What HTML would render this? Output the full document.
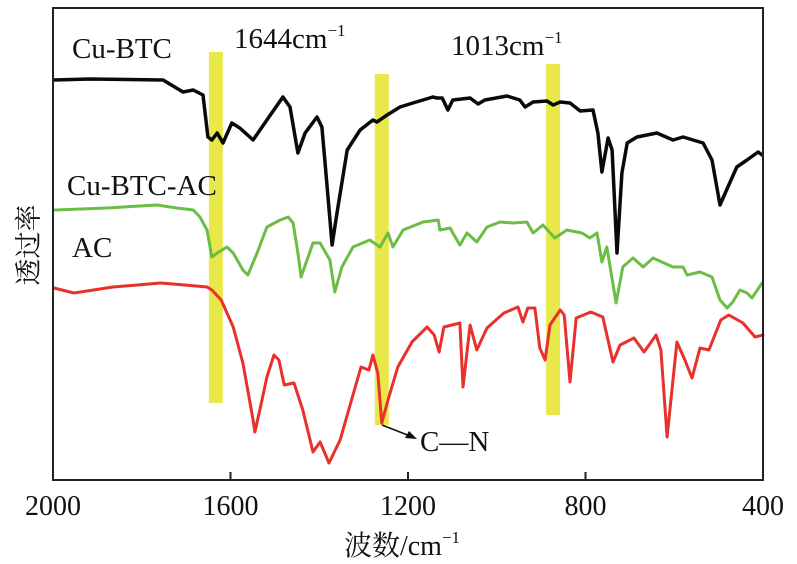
<!DOCTYPE html>
<html><head><meta charset="utf-8"><style>
html,body{margin:0;padding:0;background:#fff;}
svg{display:block;}
text{font-family:"Liberation Serif","Noto Serif CJK SC",serif;fill:#111;}
</style></head><body>
<svg id="chart" width="797" height="564" viewBox="0 0 797 564">
<g id="bars"></g>
<g id="series"></g>
<rect x="53" y="8" width="710" height="472" fill="none" stroke="#222" stroke-width="2"/>
<g id="ticks"></g>
<text x="402" y="555" font-size="28" text-anchor="middle">波数/cm<tspan font-size="17" dy="-12">−1</tspan></text>
<text transform="translate(38,245) rotate(-90)" font-size="27" text-anchor="middle">透过率</text>
<text x="72" y="58" font-size="29">Cu-BTC</text>
<text x="67" y="195" font-size="29">Cu-BTC-AC</text>
<text x="72" y="257" font-size="29">AC</text>
<text x="234" y="48" font-size="29">1644cm<tspan font-size="17" dy="-12">−1</tspan></text>
<text x="451" y="55" font-size="29">1013cm<tspan font-size="17" dy="-12">−1</tspan></text>
<line x1="382" y1="425" x2="410" y2="436" stroke="#111" stroke-width="1.5"/>
<polygon points="417,439 405,438 409,431" fill="#111"/>
<text x="420" y="451" font-size="29">C—N</text>
</svg>
<script>
const xTicks=[2000,1600,1200,800,400];
const bandCenters=[1633,1259,873];
const bandTops=[52,74,64];
const bandBottoms=[403,425,415];
const blackWn=[1998,1917,1752,1707,1684,1662,1651,1642,1630,1617,1597,1579,1549,1518,1482,1466,1448,1432,1405,1394,1383,1371,1360,1337,1308,1279,1270,1247,1218,1189,1144,1135,1123,1110,1099,1060,1042,1027,977,948,936,918,887,873,857,835,812,783,772,763,749,740,729,718,706,684,639,603,580,535,515,497,479,459,436,411,402];
const blackT=[400,401,400,388,390,385,343,340,347,337,357,352,340,360,383,373,327,347,363,353,297,235,267,330,350,360,358,365,373,377,383,382,382,370,380,382,376,380,384,380,373,378,379,375,378,377,369,370,347,308,342,330,227,307,337,343,347,340,343,337,320,275,293,313,320,328,325];
const greenWn=[1995,1878,1766,1721,1684,1669,1653,1642,1630,1608,1594,1572,1561,1540,1518,1488,1470,1459,1448,1441,1414,1398,1376,1365,1349,1324,1286,1263,1245,1234,1211,1166,1132,1128,1105,1099,1083,1067,1045,1022,993,963,932,918,896,869,842,808,790,774,763,752,731,716,693,670,648,603,580,571,542,515,497,481,468,452,436,425,402];
const greenT=[270,272,275,272,270,263,250,223,227,233,227,210,205,227,253,260,263,257,227,203,237,237,220,188,213,233,240,233,247,233,250,258,260,250,252,247,235,247,238,253,258,257,258,247,255,242,250,247,242,247,218,233,177,213,222,213,222,213,213,205,208,203,180,172,178,190,187,182,197];
const redWn=[1998,1953,1865,1757,1703,1653,1642,1621,1594,1572,1549,1545,1529,1518,1502,1491,1479,1457,1437,1414,1398,1378,1353,1306,1288,1279,1268,1259,1245,1223,1191,1157,1141,1130,1119,1083,1076,1060,1045,1022,984,952,941,930,914,903,891,880,857,848,835,821,788,761,738,722,691,668,641,630,616,594,576,560,542,522,495,477,445,418,400];
const redT=[192,187,193,197,195,193,190,180,153,117,60,48,80,103,125,120,95,97,70,28,38,17,40,113,110,125,107,57,80,113,138,153,145,128,153,157,93,155,130,152,167,173,158,172,172,132,120,155,170,165,98,162,168,163,118,135,142,128,145,130,43,138,120,102,132,130,160,165,157,143,145];

const X0=53,X1=763,Y0=480,Y1=8;
function xScale(w){return X0+(2000-w)*(X1-X0)/1600;}
function yScale(t){return Y0-t*(Y0-Y1)/472;}
const NS="http://www.w3.org/2000/svg";
const bars=document.getElementById('bars');
bandCenters.forEach((c,i)=>{
  const r=document.createElementNS(NS,'rect');
  r.setAttribute('x',xScale(c)-7);r.setAttribute('width',14);
  r.setAttribute('y',bandTops[i]);r.setAttribute('height',bandBottoms[i]-bandTops[i]);
  r.setAttribute('fill','#e8e84a');
  
  
  bars.appendChild(r);
});
const series=document.getElementById('series');
function draw(wn,t,color,w,name){
  const p=document.createElementNS(NS,'polyline');
  p.setAttribute('points',wn.map((v,i)=>xScale(v).toFixed(1)+','+yScale(t[i]).toFixed(1)).join(' '));
  p.setAttribute('fill','none');p.setAttribute('stroke',color);p.setAttribute('stroke-width',w);
  p.setAttribute('stroke-linejoin','round');p.setAttribute('stroke-linecap','round');
  
  
  series.appendChild(p);
}
draw(redWn,redT,'#e8302c',3,'series-ac');
draw(greenWn,greenT,'#6cbd45',3,'series-cu-btc-ac');
draw(blackWn,blackT,'#0a0a0a',3.5,'series-cu-btc');
const ticks=document.getElementById('ticks');
xTicks.forEach(v=>{
  const x=xScale(v);
  const l=document.createElementNS(NS,'line');
  l.setAttribute('x1',x);l.setAttribute('x2',x);l.setAttribute('y1',480);l.setAttribute('y2',472);
  l.setAttribute('stroke','#222');l.setAttribute('stroke-width',2);
  
  
  ticks.appendChild(l);
  const t=document.createElementNS(NS,'text');
  t.setAttribute('x',x);t.setAttribute('y',515);t.setAttribute('font-size','28');
  t.setAttribute('text-anchor','middle');t.textContent=v;
  
  
  ticks.appendChild(t);
});
</script>
</body></html>
